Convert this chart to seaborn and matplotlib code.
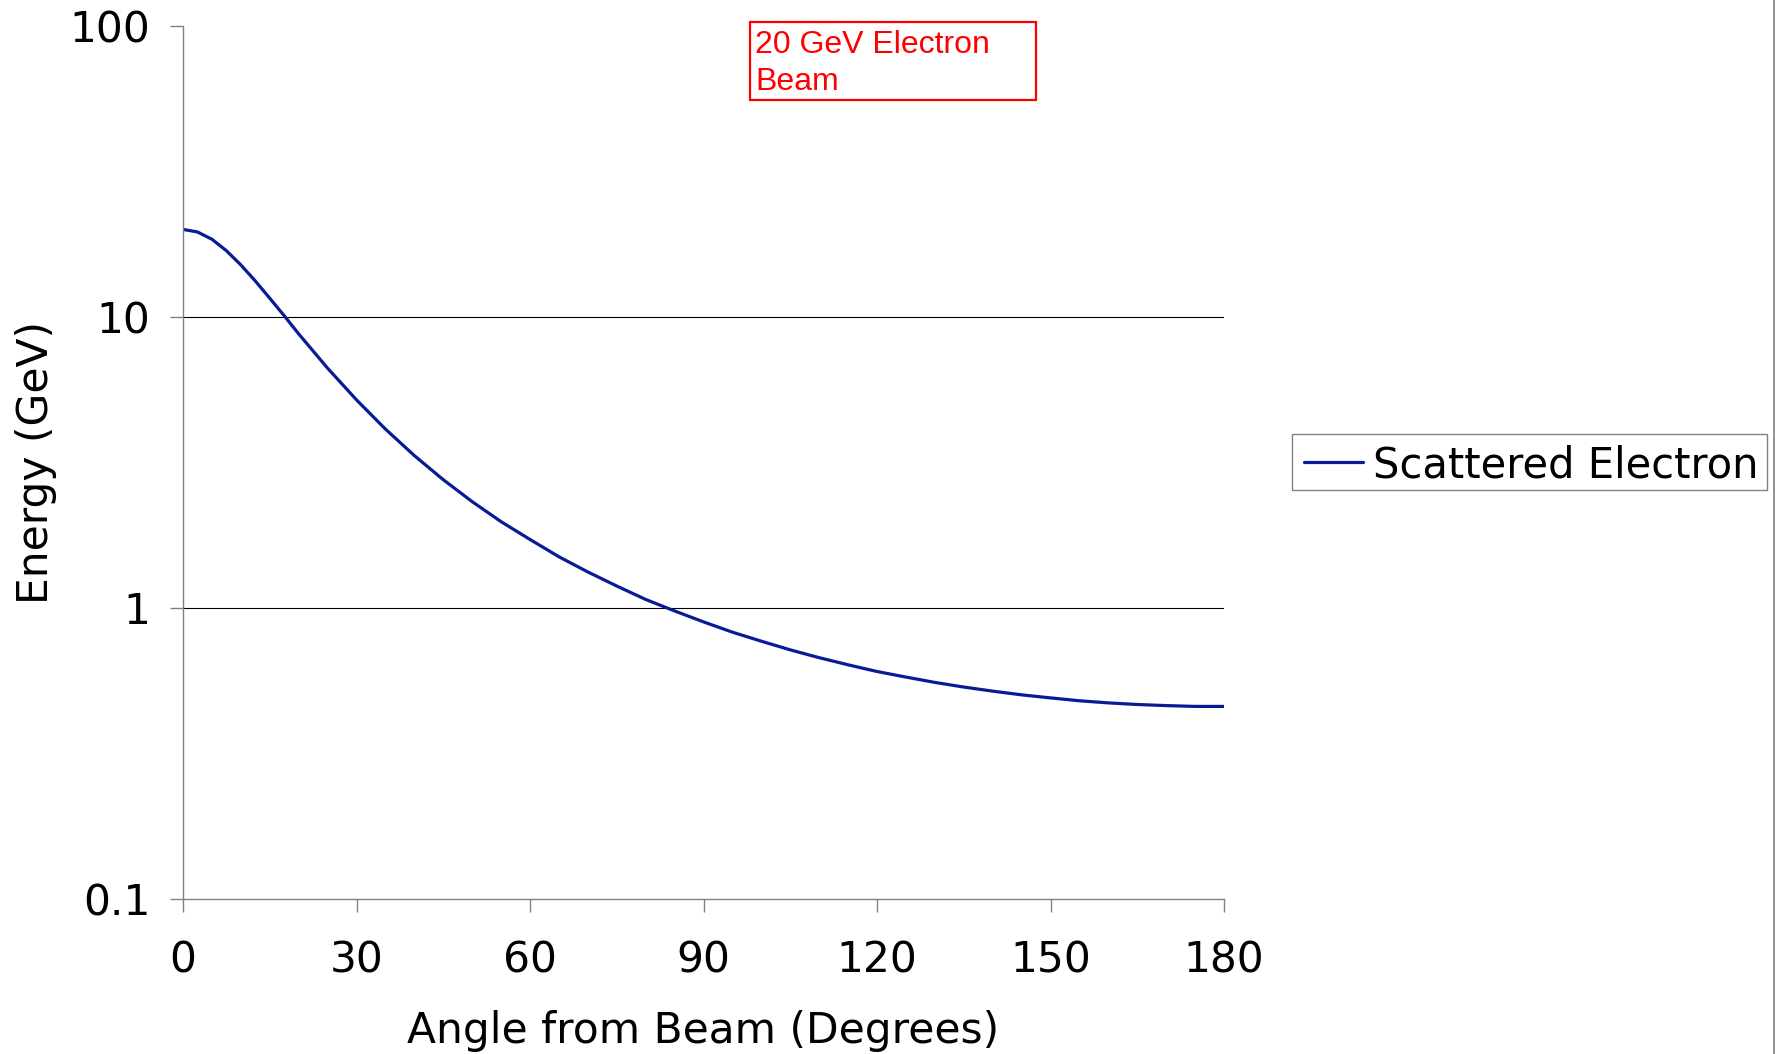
import matplotlib
matplotlib.use("Agg")
import matplotlib.pyplot as plt
from matplotlib.patches import Rectangle
from matplotlib.lines import Line2D
from matplotlib.ticker import FuncFormatter, NullLocator, FixedLocator
import seaborn as sns
import pandas as pd

# Data
angles = [0, 2.5, 5, 7.5, 10, 12.5, 15, 17.5, 20, 25, 30, 35, 40, 45, 50, 55, 60, 65,
          70, 75, 80, 85, 90, 95, 100, 105, 110, 115, 120, 125, 130, 135, 140, 145,
          150, 155, 160, 165, 170, 175, 180]
energy = [20.0, 19.6, 18.5, 16.9, 15.1, 13.3, 11.6, 10.1, 8.75, 6.67, 5.19, 4.12, 3.34,
          2.76, 2.32, 1.98, 1.72, 1.50, 1.33, 1.19, 1.07, 0.977, 0.896, 0.826, 0.769,
          0.718, 0.675, 0.638, 0.605, 0.579, 0.555, 0.535, 0.518, 0.503, 0.491, 0.480,
          0.472, 0.466, 0.462, 0.459, 0.459]
series_name = "Scattered Electron"
x_ticks = [0, 30, 60, 90, 120, 150, 180]
y_ticks = [0.1, 1, 10, 100]
x_label = "Angle from Beam (Degrees)"
y_label = "Energy (GeV)"
annotation = "20 GeV Electron\nBeam"

df = pd.DataFrame({"Angle": angles, "Energy": energy, "Series": series_name})

sns.set_style("white")
plt.rcParams["font.family"] = ["DejaVu Sans"]
plt.rcParams["text.color"] = "black"

W, H = 1775, 1054
fig = plt.figure(figsize=(W / 100, H / 100), dpi=100)
ax = fig.add_axes([183 / W, 1 - 899 / H, 1041 / W, 873 / H])

line_color = "#0a1a96"
sns.lineplot(data=df, x="Angle", y="Energy", ax=ax, color=line_color,
             linewidth=2.3, legend=False)
ax.set_yscale("log")
ax.set_xlim(0, 180)
ax.set_ylim(0.1, 100)

ax.xaxis.set_major_locator(FixedLocator(x_ticks))
ax.yaxis.set_major_locator(FixedLocator(y_ticks))
ax.yaxis.set_minor_locator(NullLocator())
ax.xaxis.set_minor_locator(NullLocator())
ax.yaxis.set_major_formatter(FuncFormatter(lambda v, p: f"{v:g}"))

for s in ["top", "right"]:
    ax.spines[s].set_visible(False)
for s in ["left", "bottom"]:
    ax.spines[s].set_color("#808080")
    ax.spines[s].set_linewidth(1.0)

ax.tick_params(axis="both", which="major", direction="out", length=9.4, width=1.0,
               color="#808080", labelsize=30.5, labelcolor="black",
               bottom=True, left=True, top=False, right=False)
ax.tick_params(axis="y", pad=14)
ax.tick_params(axis="x", pad=20)

ax.yaxis.grid(True, color="black", linewidth=0.8)
ax.xaxis.grid(False)
ax.set_axisbelow(True)
for gl, v in zip(ax.yaxis.get_gridlines(), y_ticks):
    if v in (0.1, 100):
        gl.set_visible(False)

ax.set_xlabel(x_label, fontsize=30.5, color="black")
ax.set_ylabel(y_label, fontsize=30.5, color="black")
ax.xaxis.set_label_coords(0.5, -0.127)
ax.yaxis.set_label_coords(-0.1212, 0.5)

# Legend (frame drawn separately to match reference padding)
handle = Line2D([], [], color=line_color, linewidth=2.3)
fig.legend([handle], [series_name], loc="center left",
           bbox_to_anchor=(1296 / W, 1 - 465 / H), bbox_transform=fig.transFigure,
           frameon=False, fontsize=30, handlelength=1.4, handletextpad=0.25,
           borderpad=0.2, borderaxespad=0, labelcolor="black")
fig.patches.append(Rectangle((1292 / W, 1 - 490 / H), 475 / W, 56 / H,
                             transform=fig.transFigure, fill=False,
                             edgecolor="#808080", linewidth=1.0))

# Annotation box
fig.patches.append(Rectangle((750 / W, 1 - 100 / H), 286 / W, 78 / H,
                             transform=fig.transFigure, fill=False,
                             edgecolor="red", linewidth=1.6))
fig.text(755 / W, 1 - 30 / H, annotation, color="red", fontsize=23,
         family=["Liberation Sans", "DejaVu Sans"], ha="left", va="top",
         linespacing=1.3)

# Right border line
fig.add_artist(Line2D([1774 / W, 1774 / W], [0, 1], transform=fig.transFigure,
                      color="#808080", linewidth=1.2))

fig.savefig("out.png", dpi=100)
